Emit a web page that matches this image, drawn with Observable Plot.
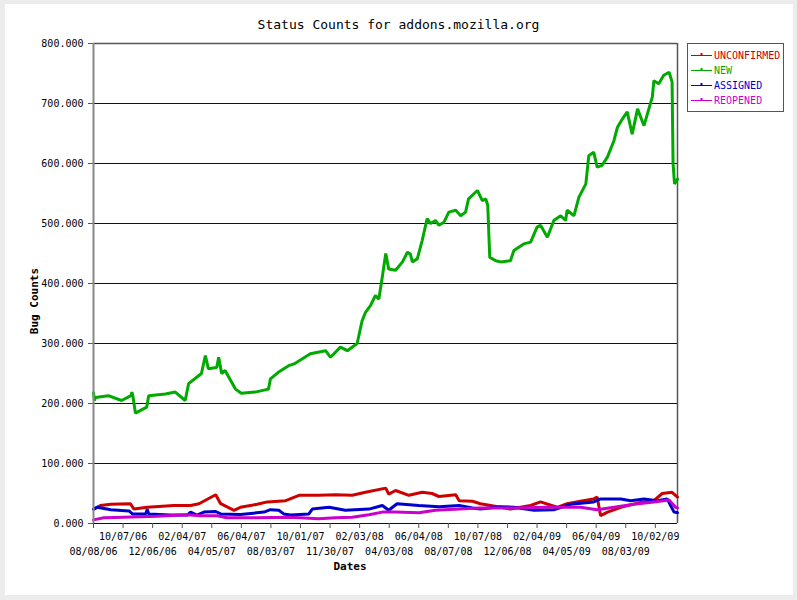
<!DOCTYPE html>
<html><head><meta charset="utf-8">
<script src="https://cdn.jsdelivr.net/npm/d3@7"></script>
<script src="https://cdn.jsdelivr.net/npm/@observablehq/plot@0.6"></script>
<style>
html,body{margin:0;padding:0;background:#ececec;overflow:hidden;}
#wrap{position:relative;width:797px;height:600px;font-family:"DejaVu Sans Mono",monospace;}
#panel{position:absolute;left:5px;top:4px;width:788px;height:591px;background:#fff;}
#chart{position:absolute;left:0;top:0;}
#title{position:absolute;left:0;width:797px;top:17px;text-align:center;font-size:13px;line-height:15px;color:#000;}
#xlab{position:absolute;left:300px;width:100px;top:560px;text-align:center;font-size:11px;line-height:14px;font-weight:bold;}
#ylab{position:absolute;left:-15px;width:100px;top:294px;text-align:center;font-size:11px;line-height:14px;font-weight:bold;transform:rotate(-90deg);}
#legend{position:absolute;left:687px;top:43px;width:95px;height:67px;border:1px solid #555;background:#fff;}
.row{position:absolute;left:2px;height:15px;display:flex;align-items:center;font-size:10px;}
.row svg{margin-right:2px;}
</style>
</head><body>
<div id="wrap">
  <div id="panel"></div>
  <div id="chart"></div>
  <div id="title"></div>
  <div id="xlab"></div>
  <div id="ylab"></div>
  <div id="legend"></div>
</div>
<script>
const titleText = "Status Counts for addons.mozilla.org";
const xAxisTitle = "Dates";
const yAxisTitle = "Bug Counts";

const seriesNames = ["UNCONFIRMED", "NEW", "ASSIGNED", "REOPENED"];
const seriesColors = ["#cc0000", "#00aa00", "#0000cc", "#cc00cc"];

const yTicks = [0, 100, 200, 300, 400, 500, 600, 700, 800];
const xTickIndex = [0, 60, 120, 180, 240, 300, 360, 420, 480, 540, 600, 660, 720, 780, 840, 900, 960, 1020, 1080, 1140];
const xTickLabels = ["08/08/06","10/07/06","12/06/06","02/04/07","04/05/07","06/04/07","08/03/07","10/01/07","11/30/07","02/03/08","04/03/08","06/04/08","08/07/08","10/07/08","12/06/08","02/04/09","04/05/09","06/04/09","08/03/09","10/02/09"];
const lastIndex = 1185;

// [day index, count]
const unconfirmedData = [[0,24],[14,30],[35,32],[75,33],[82,24],[109,27],[163,30],[197,30],[214,33],[248,48],[258,33],[285,22],[298,27],[332,32],[353,36],[390,38],[417,47],[457,47],[491,48],[525,47],[552,52],[593,59],[599,49],[613,55],[640,47],[667,52],[687,50],[701,45],[735,48],[742,38],[769,37],[785,33],[806,30],[846,24],[887,30],[907,36],[941,27],[961,33],[988,37],[1015,41],[1022,44],[1029,13],[1043,19],[1070,27],[1104,34],[1137,38],[1154,50],[1174,52],[1185,44]];
const newData = [[0,218],[2,205],[4,210],[30,213],[57,205],[76,213],[78,219],[80,212],[85,184],[108,194],[112,213],[146,216],[166,219],[186,205],[193,233],[219,250],[227,280],[233,258],[250,260],[254,277],[260,250],[267,255],[288,224],[300,217],[328,219],[355,224],[359,241],[375,252],[396,263],[407,266],[440,283],[471,288],[481,277],[501,294],[515,288],[535,300],[545,338],[552,352],[562,363],[572,380],[579,374],[586,411],[593,450],[599,424],[613,422],[627,436],[637,452],[643,449],[647,436],[657,441],[667,472],[677,508],[684,500],[694,505],[701,497],[711,502],[721,519],[735,522],[745,513],[755,519],[761,541],[779,555],[789,538],[796,541],[800,530],[804,444],[816,438],[826,436],[846,438],[853,455],[873,466],[887,469],[900,494],[907,497],[921,477],[934,505],[948,513],[958,505],[961,522],[975,513],[985,544],[999,566],[1005,613],[1015,619],[1022,594],[1032,597],[1043,611],[1056,638],[1063,660],[1073,674],[1083,686],[1093,649],[1104,691],[1117,663],[1134,711],[1137,738],[1147,733],[1157,747],[1168,752],[1174,736],[1176,600],[1179,566],[1185,574]];
const assignedData = [[0,24],[8,27],[35,23],[72,21],[79,16],[106,16],[109,24],[112,16],[156,14],[190,14],[197,19],[210,14],[224,19],[248,20],[258,16],[298,15],[346,19],[359,23],[376,22],[386,16],[400,14],[437,16],[444,24],[478,27],[511,22],[559,24],[586,30],[599,22],[616,33],[660,30],[701,28],[742,30],[769,26],[785,24],[826,28],[853,27],[894,22],[934,23],[968,32],[1015,36],[1029,41],[1070,41],[1090,38],[1117,41],[1144,38],[1164,41],[1178,19],[1185,18]];
const reopenedData = [[0,6],[21,9.5],[61,10.5],[129,12],[190,14.5],[217,13],[251,13],[271,9.5],[332,9.5],[400,10.5],[457,8],[491,9.5],[525,10.5],[559,14.5],[586,19],[613,19],[660,18],[694,22],[742,24],[783,26],[853,26],[921,27],[988,27],[1022,23],[1056,27],[1097,32],[1137,36],[1168,39],[1181,27],[1185,26]];

const allSeries = [unconfirmedData, newData, assignedData, reopenedData];
const labelOf = d => xTickLabels[xTickIndex.indexOf(d)];
const upperTicks = xTickIndex.filter((d, i) => i % 2 === 1);
const lowerTicks = xTickIndex.filter((d, i) => i % 2 === 0);

const plot = Plot.plot({
  width: 797, height: 600,
  marginLeft: 93, marginRight: 120, marginTop: 43, marginBottom: 77,
  style: {background: "transparent", fontFamily: "DejaVu Sans Mono, monospace", fontSize: "10px", color: "#000", overflow: "visible"},
  x: {domain: [0, lastIndex], axis: null},
  y: {domain: [0, 800], axis: null},
  marks: [
    Plot.ruleY(yTicks, {stroke: "#111", strokeWidth: 1}),
    Plot.ruleX([lastIndex], {stroke: "#555", strokeWidth: 1.5}),
    Plot.ruleY([800], {stroke: "#555", strokeWidth: 1.5}),
    Plot.axisY(yTicks, {tickFormat: d => d.toFixed(3), tickSize: 5, tickPadding: 5, stroke: "#555", fill: "#000"}),
    Plot.axisX(upperTicks, {tickFormat: labelOf, tickSize: 5, tickPadding: 4, stroke: "#555", fill: "#000"}),
    Plot.axisX(lowerTicks, {tickFormat: labelOf, tickSize: 5, tickPadding: 19, stroke: "#555", fill: "#000"}),
    ...allSeries.map((s, k) => Plot.line(s, {x: d => d[0], y: d => d[1], stroke: seriesColors[k], strokeWidth: 3, strokeLinejoin: "miter"})),
    Plot.ruleX([0], {stroke: "#888", strokeWidth: 2})
  ]
});
document.getElementById("chart").appendChild(plot);
document.getElementById("title").textContent = titleText;
document.getElementById("xlab").textContent = xAxisTitle;
document.getElementById("ylab").textContent = yAxisTitle;

const legend = document.getElementById("legend");
seriesNames.forEach((name, k) => {
  const row = document.createElement("div");
  row.className = "row";
  row.style.top = (4 + k * 15) + "px";
  row.innerHTML = `<svg width="22" height="15"><line x1="1" x2="22" y1="7.5" y2="7.5" stroke="${seriesColors[k]}" stroke-width="1"/><line x1="11.5" x2="11.5" y1="5" y2="8" stroke="${seriesColors[k]}" stroke-width="2"/></svg><span style="color:${seriesColors[k]}">${name}</span>`;
  legend.appendChild(row);
});
</script>
</body></html>
